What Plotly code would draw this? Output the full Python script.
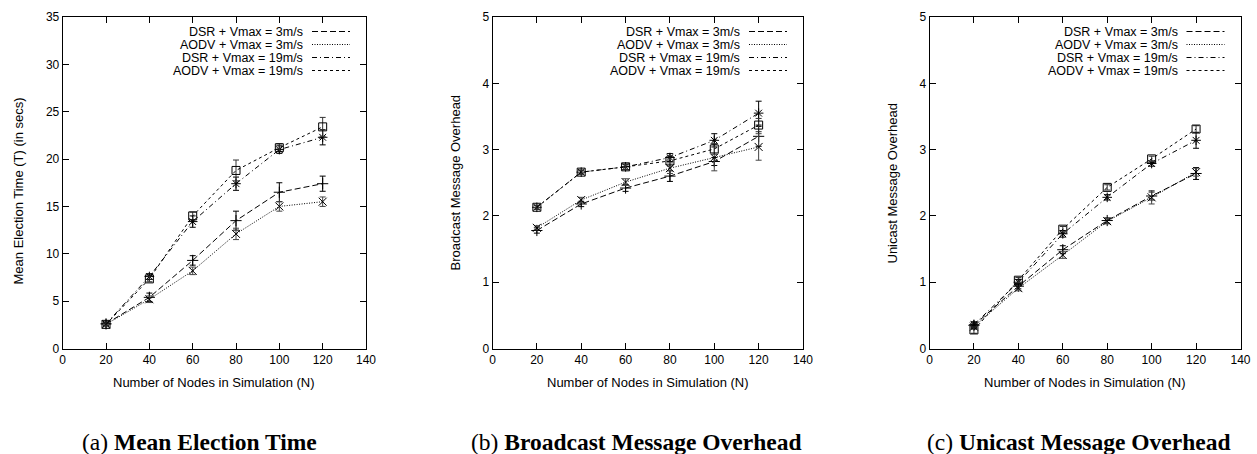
import plotly.graph_objects as go

W, H = 1257, 454

# ---------------- data ----------------
nodes = [20, 40, 60, 80, 100, 120]
series_names = ["DSR + Vmax = 3m/s", "AODV + Vmax = 3m/s",
                "DSR + Vmax = 19m/s", "AODV + Vmax = 19m/s"]

# (a) Mean Election Time (T) (in secs)
time_dsr3 = [2.6, 5.4, 9.3, 13.5, 16.5, 17.4]
time_dsr3_err = [0.2, 0.45, 0.5, 1.0, 1.0, 0.8]
time_aodv3 = [2.55, 5.2, 8.2, 12.1, 15.0, 15.5]
time_aodv3_err = [0.15, 0.35, 0.4, 0.6, 0.5, 0.5]
time_dsr19 = [2.6, 7.6, 13.4, 17.4, 21.0, 22.3]
time_dsr19_err = [0.15, 0.3, 0.6, 0.7, 0.4, 0.8]
time_aodv19 = [2.55, 7.35, 14.0, 18.8, 21.2, 23.4]
time_aodv19_err = [0.15, 0.3, 0.4, 1.1, 0.4, 1.0]

# (b) Broadcast Message Overhead
bc_dsr3 = [1.78, 2.18, 2.42, 2.60, 2.82, 3.20]
bc_dsr3_err = [0.04, 0.04, 0.05, 0.08, 0.06, 0.15]
bc_aodv3 = [1.82, 2.24, 2.51, 2.72, 2.88, 3.04]
bc_aodv3_err = [0.03, 0.04, 0.05, 0.08, 0.2, 0.2]
bc_dsr19 = [2.13, 2.66, 2.74, 2.88, 3.14, 3.55]
bc_dsr19_err = [0.03, 0.03, 0.04, 0.06, 0.1, 0.18]
bc_aodv19 = [2.13, 2.66, 2.74, 2.83, 3.01, 3.37]
bc_aodv19_err = [0.03, 0.03, 0.04, 0.08, 0.08, 0.1]

# (c) Unicast Message Overhead
uc_dsr3 = [0.35, 0.94, 1.49, 1.93, 2.30, 2.64]
uc_dsr3_err = [0.05, 0.04, 0.06, 0.04, 0.06, 0.09]
uc_aodv3 = [0.33, 0.91, 1.41, 1.92, 2.28, 2.66]
uc_aodv3_err = [0.04, 0.04, 0.05, 0.04, 0.1, 0.06]
uc_dsr19 = [0.36, 1.0, 1.73, 2.28, 2.79, 3.14]
uc_dsr19_err = [0.04, 0.04, 0.05, 0.04, 0.04, 0.12]
uc_aodv19 = [0.28, 1.03, 1.80, 2.43, 2.86, 3.31]
uc_aodv19_err = [0.05, 0.04, 0.04, 0.04, 0.04, 0.05]

panel_titles_y = ["Mean Election Time (T) (in secs)",
                  "Broadcast Message Overhead",
                  "Unicast Message Overhead"]
x_title = "Number of Nodes in Simulation (N)"
captions = [("(a)", "Mean Election Time"),
            ("(b)", "Broadcast Message Overhead"),
            ("(c)", "Unicast Message Overhead")]
y_ranges = [[0, 35], [0, 5], [0, 5]]
y_dticks = [5, 1, 1]
x_ticks = [0, 20, 40, 60, 80, 100, 120, 140]

panels = [
    [(time_dsr3, time_dsr3_err), (time_aodv3, time_aodv3_err),
     (time_dsr19, time_dsr19_err), (time_aodv19, time_aodv19_err)],
    [(bc_dsr3, bc_dsr3_err), (bc_aodv3, bc_aodv3_err),
     (bc_dsr19, bc_dsr19_err), (bc_aodv19, bc_aodv19_err)],
    [(uc_dsr3, uc_dsr3_err), (uc_aodv3, uc_aodv3_err),
     (uc_dsr19, uc_dsr19_err), (uc_aodv19, uc_aodv19_err)],
]

# ---------------- styles ----------------
dashes = ["6px,3px", "1px,1.5px", "5px,3px,1px,3px", "3px,3px"]
symbols = ["cross-thin", "x-thin", "asterisk", "square-open"]
err_colors = ["#000000", "#444444", "#000000", "#333333"]

# plot areas in pixels
x_px = [(62.7, 366.0), (492.5, 803.0), (929.5, 1240.5)]
y_px = (17.0, 348.5)
ytitle_pos = [(17.5, 191.0), (455.0, 182.5), (892.0, 183.5)]
caption_cx = [199.0, 636.0, 1078.0]
font_sans = "Liberation Sans, Arial, sans-serif"
font_serif = "Liberation Serif, Times New Roman, serif"


def px_x(x):
    return x / W


def px_y(y):
    return 1 - y / H


fig = go.Figure()
layout = dict(
    template="none",
    width=W, height=H,
    margin=dict(l=0, r=0, t=0, b=0, autoexpand=False),
    paper_bgcolor="white", plot_bgcolor="white",
    showlegend=False,
    font=dict(family=font_sans, size=12, color="black"),
)
annotations = []
shapes = []

for p in range(3):
    sfx = "" if p == 0 else str(p + 1)
    xa, ya = "x" + sfx, "y" + sfx
    for s, (vals, errs) in enumerate(panels[p]):
        fig.add_trace(go.Scatter(
            x=nodes, y=vals, xaxis=xa, yaxis=ya, name=series_names[s],
            mode="lines+markers",
            line=dict(color="black", width=1, dash=dashes[s]),
            marker=dict(symbol=symbols[s], size=8, color="black",
                        line=dict(color="black", width=1)),
            error_y=dict(type="data", array=errs, visible=True,
                         thickness=1, width=3, color=err_colors[s]),
        ))
    axis_common = dict(
        automargin=False,
        showline=True, linecolor="black", linewidth=1, mirror="allticks",
        ticks="inside", ticklen=6, tickcolor="black", tickwidth=1,
        showgrid=False, zeroline=False,
        tickfont=dict(family=font_sans, size=12, color="black"),
    )
    layout["xaxis" + sfx] = dict(
        axis_common, domain=[px_x(x_px[p][0]), px_x(x_px[p][1])],
        range=[0, 140], tickvals=x_ticks, anchor=ya,
    )
    layout["yaxis" + sfx] = dict(
        axis_common, domain=[px_y(y_px[1]), px_y(y_px[0])],
        range=y_ranges[p], dtick=y_dticks[p], anchor=xa,
    )
    # axis titles
    cx = (x_px[p][0] + x_px[p][1]) / 2
    annotations.append(dict(
        text=x_title, xref="paper", yref="paper", x=px_x(cx), y=px_y(382),
        xanchor="center", yanchor="middle", showarrow=False,
        font=dict(family=font_sans, size=13, color="black"),
    ))
    annotations.append(dict(
        text=panel_titles_y[p], xref="paper", yref="paper",
        x=px_x(ytitle_pos[p][0]), y=px_y(ytitle_pos[p][1]),
        xanchor="center", yanchor="middle", textangle=-90, showarrow=False,
        font=dict(family=font_sans, size=13, color="black"),
    ))
    # caption
    lab, bold = captions[p]
    annotations.append(dict(
        text=f"{lab} <b>{bold}</b>", xref="paper", yref="paper",
        x=px_x(caption_cx[p]), y=px_y(441.5), xanchor="center",
        yanchor="middle", showarrow=False,
        font=dict(family=font_serif, size=23.5, color="black"),
    ))
    # key (text on the left, line sample on the right)
    right = x_px[p][1]
    rows = [31.5, 44.5, 57.5, 70.5]
    for s in range(4):
        annotations.append(dict(
            text=series_names[s], xref="paper", yref="paper",
            x=px_x(right - 61), y=px_y(rows[s]),
            xanchor="right", yanchor="middle", showarrow=False,
            font=dict(family=font_sans, size=12.5, color="black"),
        ))
        shapes.append(dict(
            type="line", xref="paper", yref="paper",
            x0=px_x(right - 54), x1=px_x(right - 16),
            y0=px_y(rows[s]), y1=px_y(rows[s]),
            line=dict(color="black", width=1, dash=dashes[s]),
        ))

layout["annotations"] = annotations
layout["shapes"] = shapes
fig.update_layout(**layout)
fig.write_html(
    "out.html",
    config={"displayModeBar": False},
    post_script=("document.body.style.margin='0';"
                 "document.body.style.padding='0';"
                 "document.documentElement.style.overflow='hidden';"),
)
